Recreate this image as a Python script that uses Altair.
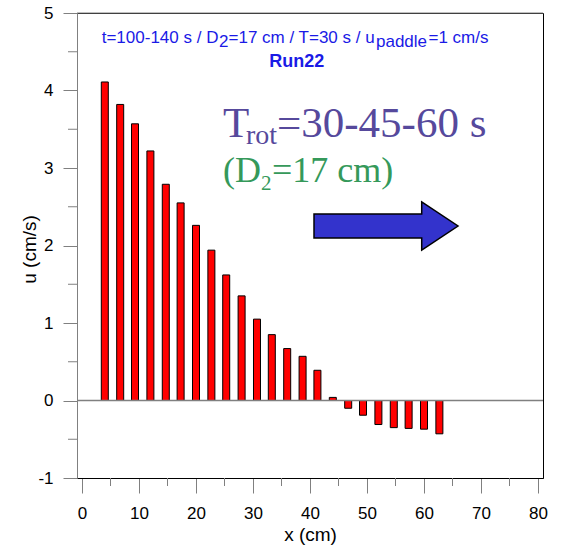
import altair as alt
import pandas as pd

# ---- data ----
x_pos = [1.3, 4.0, 6.7, 9.3, 12.0, 14.7, 17.3, 20.0, 22.7, 25.3, 28.0, 30.7, 33.3, 36.0, 38.7,
         41.3, 44.0, 46.7, 49.3, 52.0, 54.7, 57.3, 60.0, 62.7, 65.3, 68.0, 70.7, 73.3, 76.0, 78.7]
u_vals = [0.0, 4.11, 3.82, 3.57, 3.22, 2.79, 2.55, 2.26, 1.94, 1.62, 1.35, 1.05, 0.85, 0.67, 0.57,
          0.39, 0.04, -0.10, -0.19, -0.31, -0.35, -0.36, -0.37, -0.43, 0.0, 0.0, 0.0, 0.0, 0.0, 0.0]
x_major = [0, 10, 20, 30, 40, 50, 60, 70, 80]
x_minor = [5, 15, 25, 35, 45, 55, 65, 75]
y_major = [-1, 0, 1, 2, 3, 4, 5]
y_minor = [-0.5, 0.5, 1.5, 2.5, 3.5, 4.5]

W, H = 466, 465
SANS = "Liberation Sans"
SERIF = "Liberation Serif"
GREY = "#808080"

df = pd.DataFrame({"x": x_pos, "u": u_vals})

xs = alt.Scale(domain=[0, 80], nice=False, zero=False)
ys = alt.Scale(domain=[-1, 5], nice=False, zero=False)

X = alt.X("x:Q", scale=xs, axis=alt.Axis(
    values=x_major, title="x (cm)", tickSize=15, tickColor=GREY, domainColor="#000",
    labelFontSize=17, labelFont=SANS, labelColor="#000", labelPadding=12,
    labelExpr="'' + datum.value",
    titleFontSize=19, titleFont=SANS, titleFontWeight="normal", titleColor="#000", titlePadding=4))
Y = alt.Y("u:Q", scale=ys, axis=alt.Axis(
    values=y_major, title="u (cm/s)", tickSize=14, tickColor=GREY, domainColor=GREY,
    labelFontSize=17, labelFont=SANS, labelColor="#000", labelPadding=10,
    labelExpr="'' + datum.value",
    titleFontSize=19, titleFont=SANS, titleFontWeight="normal", titleColor="#000",
    titleX=-48, titleY=236, titleAngle=-90, titleAlign="center", titleBaseline="middle"))

bars = alt.Chart(df).mark_bar(size=7, fill="#ff0000", stroke="#000", strokeWidth=1).encode(x=X, y=Y)

top_line = alt.Chart(pd.DataFrame({"u": [5]})).mark_rule(color=GREY, strokeWidth=1).encode(y=Y)
zero_line = alt.Chart(pd.DataFrame({"u": [0]})).mark_rule(color=GREY, strokeWidth=1.5).encode(y=Y)

xminor = alt.Chart(pd.DataFrame({"x": x_minor})).mark_rule(color=GREY).encode(
    x=X, y=alt.value(H), y2=alt.value(H + 8))
yminor = alt.Chart(pd.DataFrame({"u": y_minor})).mark_rule(color=GREY).encode(
    y=Y, x=alt.value(-9), x2=alt.value(0))


def txt(s, x, y, size, color, font, weight="normal", align="left"):
    return alt.Chart(pd.DataFrame({"s": [s]})).mark_text(
        align=align, baseline="alphabetic", fontSize=size, color=color, font=font, fontWeight=weight
    ).encode(text="s:N", x=alt.value(x), y=alt.value(y))


BLUE = "#1a1ae6"
PURPLE = "#56499c"
GREEN = "#35995a"
texts = [
    txt("t=100-140 s / D", 24.7, 30.3, 17, BLUE, SANS),
    txt("2", 142.0, 34, 17, BLUE, SANS),
    txt("=17 cm / T=30 s / u", 151.5, 30.3, 17, BLUE, SANS),
    txt("paddle", 299.0, 34, 17, BLUE, SANS),
    txt("=1 cm/s", 351.5, 30.3, 17, BLUE, SANS),
    txt("Run22", 219.7, 53.7, 18, BLUE, SANS, weight="bold", align="center"),
    txt("T", 146, 123.7, 43, PURPLE, SERIF),
    txt("rot", 169, 131, 28, PURPLE, SERIF),
    txt("=30-45-60 s", 200, 123.7, 43, PURPLE, SERIF),
    txt("(D", 146, 169, 36, GREEN, SERIF),
    txt("2", 184, 177, 21, GREEN, SERIF),
    txt("=17 cm)", 195, 169, 36, GREEN, SERIF),
]

arrow_path = "M-1,-0.165 L0.496,-0.165 L0.496,-0.335 L1,0 L0.496,0.335 L0.496,0.165 L-1,0.165 Z"
arrow = alt.Chart(pd.DataFrame({"a": [1]})).mark_point(
    shape=arrow_path, size=144 * 144, filled=True, fill="#3333cc", stroke="#000",
    strokeWidth=1.5, opacity=1
).encode(x=alt.value(309), y=alt.value(213))

chart = alt.layer(bars, top_line, zero_line, xminor, yminor, arrow, *texts).properties(
    width=W, height=H,
    autosize=alt.AutoSizeParams(type="none"),
    padding={"left": 77, "top": 13, "right": 20, "bottom": 67},
).configure_view(stroke="#000", strokeWidth=1).configure_axis(grid=False)

chart.save("out.html", embed_options={"renderer": "svg", "actions": False})
